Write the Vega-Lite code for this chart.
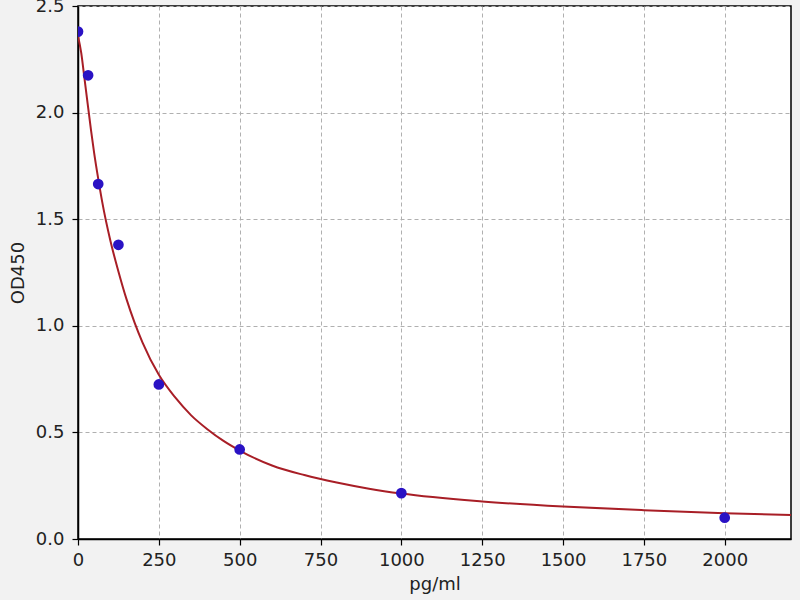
{
  "$schema": "https://vega.github.io/schema/vega-lite/v6.json",
  "autosize": "none",
  "width": 713,
  "height": 533,
  "padding": {"left": 78, "top": 6, "right": 9, "bottom": 61},
  "background": "#f2f2f2",
  "datasets": {
    "curve": [
      {"conc": 0, "od": 2.36}, {"conc": 10, "od": 2.28}, {"conc": 20, "od": 2.16},
      {"conc": 30, "od": 2.04}, {"conc": 40, "od": 1.92}, {"conc": 50, "od": 1.81},
      {"conc": 62.5, "od": 1.69}, {"conc": 75, "od": 1.58}, {"conc": 100, "od": 1.40},
      {"conc": 125, "od": 1.255}, {"conc": 150, "od": 1.125}, {"conc": 175, "od": 1.015},
      {"conc": 200, "od": 0.92}, {"conc": 250, "od": 0.77}, {"conc": 300, "od": 0.665},
      {"conc": 350, "od": 0.58}, {"conc": 400, "od": 0.515}, {"conc": 450, "od": 0.46},
      {"conc": 500, "od": 0.415}, {"conc": 600, "od": 0.345}, {"conc": 700, "od": 0.30},
      {"conc": 800, "od": 0.265}, {"conc": 900, "od": 0.236}, {"conc": 1000, "od": 0.213},
      {"conc": 1250, "od": 0.176}, {"conc": 1500, "od": 0.152}, {"conc": 1750, "od": 0.135},
      {"conc": 2000, "od": 0.121}, {"conc": 2205, "od": 0.112}
    ],
    "points": [
      {"conc": 0, "od": 2.38},
      {"conc": 31.25, "od": 2.175},
      {"conc": 62.5, "od": 1.665},
      {"conc": 125, "od": 1.38},
      {"conc": 250, "od": 0.725},
      {"conc": 500, "od": 0.42},
      {"conc": 1000, "od": 0.215},
      {"conc": 2000, "od": 0.10}
    ]
  },
  "encoding": {
    "x": {
      "field": "conc",
      "type": "quantitative",
      "title": "pg/ml",
      "scale": {"domain": [0, 2205], "nice": false, "zero": false},
      "axis": {"values": [0, 250, 500, 750, 1000, 1250, 1500, 1750, 2000], "format": "d", "labelPadding": 6, "titlePadding": 6}
    },
    "y": {
      "field": "od",
      "type": "quantitative",
      "title": "OD450",
      "scale": {"domain": [0, 2.5], "nice": false},
      "axis": {"values": [0, 0.5, 1, 1.5, 2, 2.5], "format": ".1f", "labelPadding": 8, "titlePadding": 8}
    }
  },
  "layer": [
    {
      "data": {"name": "curve"},
      "mark": {"type": "line", "color": "#a81e26", "strokeWidth": 2, "interpolate": "monotone", "clip": true}
    },
    {
      "data": {"name": "points"},
      "mark": {"type": "point", "filled": true, "color": "#2a12c4", "opacity": 1, "size": 115, "clip": true}
    }
  ],
  "config": {
    "font": "DejaVu Sans",
    "view": {"fill": "white", "stroke": "black", "strokeWidth": 1.5},
    "axis": {
      "grid": true,
      "gridColor": "#b0b0b0",
      "gridDash": [4, 3],
      "gridWidth": 1,
      "domainColor": "black",
      "domainWidth": 1.5,
      "tickColor": "black",
      "tickSize": 6,
      "tickWidth": 1.2,
      "labelColor": "#222222",
      "labelFont": "DejaVu Sans",
      "labelFontSize": 18,
      "titleFont": "DejaVu Sans",
      "titleFontSize": 18,
      "titleFontWeight": "normal",
      "titleColor": "#222222",
      "labelFlush": false
    }
  }
}
